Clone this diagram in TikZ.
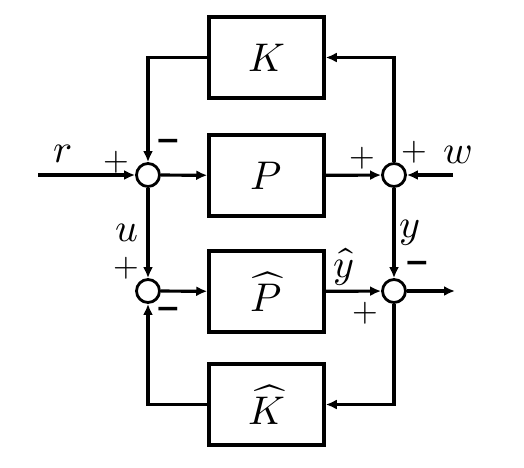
\documentclass[tikz,border=0pt]{standalone}
\usepackage{fontspec}
\usepackage{unicode-math}
\setmathfont{Latin Modern Math}
\newfontfamily\signfont{DejaVu Sans}
\usetikzlibrary{arrows.meta}
\begin{document}
\begin{tikzpicture}[x=1pt,y=-1pt,
  blk/.style={draw,line width=3.5pt,minimum width=115pt,minimum height=81pt,inner sep=0pt,font=\fontsize{40}{42}\selectfont},
  sumj/.style={draw,circle,line width=2.8pt,minimum size=23pt,inner sep=0pt},
  wire/.style={line width=3.2pt},
  arr/.style={wire,-{Latex[length=11pt,width=10pt]}},
  lbl/.style={inner sep=0pt,font=\fontsize{40}{42}\selectfont},
  pl/.style={inner sep=0pt,font=\fontsize{33}{35}\selectfont},
  mn/.style={inner sep=0pt,font=\fontsize{30}{32}\selectfont\signfont\bfseries}]
\useasboundingbox (0,0) rectangle (524,467);
% blocks
\node[blk] (K)  at (266.5,57.5)  {$K$};
\node[blk] (P)  at (266.5,175.5) {$P$};
\node[blk] (Ph) at (266.5,291.5) {$\widehat{P}$};
\node[blk] (Kh) at (266.5,404.5) {$\widehat{K}$};
% summing junctions
\node[sumj] (s1) at (148,175) {};
\node[sumj] (s2) at (394,175) {};
\node[sumj] (s3) at (148,291) {};
\node[sumj] (s4) at (394,291) {};
% free ends
\coordinate (rin) at (38,175);
\coordinate (win) at (453,175);
\coordinate (yout) at (455,291);
% connectors
\draw[arr] (rin) -- (s1);
\draw[arr] (s1) -- (P);
\draw[arr] (K.west) -| (s1.north);
\draw[arr] (P) -- (s2);
\draw[arr] (win) -- (s2);
\draw[arr] (s2.north) |- (K.east);
\draw[arr] (s1) -- (s3);
\draw[arr] (s2) -- (s4);
\draw[arr] (s3) -- (Ph);
\draw[arr] (Ph) -- (s4);
\draw[arr] (s4) -- (yout);
\draw[arr] (s4.south) |- (Kh.east);
\draw[arr] (Kh.west) -| (s3.south);
% labels
\node[lbl] (lr) at (63,154) {$r$};
\node[lbl] (lw) at (458,155) {$w$};
\node[lbl] (lu) at (127,233) {$u$};
\node[lbl] (ly) at (410,233) {$y$};
\node[lbl] (lyh) at (344,267) {$\widehat{y}$};
% signs
\node[pl] (p1) at (116,162) {$+$};
\node[mn] (m1) at (168,145) {−};
\node[pl] (p2) at (362,158) {$+$};
\node[pl] (p3) at (414,152) {$+$};
\node[pl] (p4) at (126,268) {$+$};
\node[mn] (m3) at (168,313) {−};
\node[mn] (m4) at (417,267) {−};
\node[pl] (p5) at (365,313) {$+$};
\end{tikzpicture}
\end{document}
